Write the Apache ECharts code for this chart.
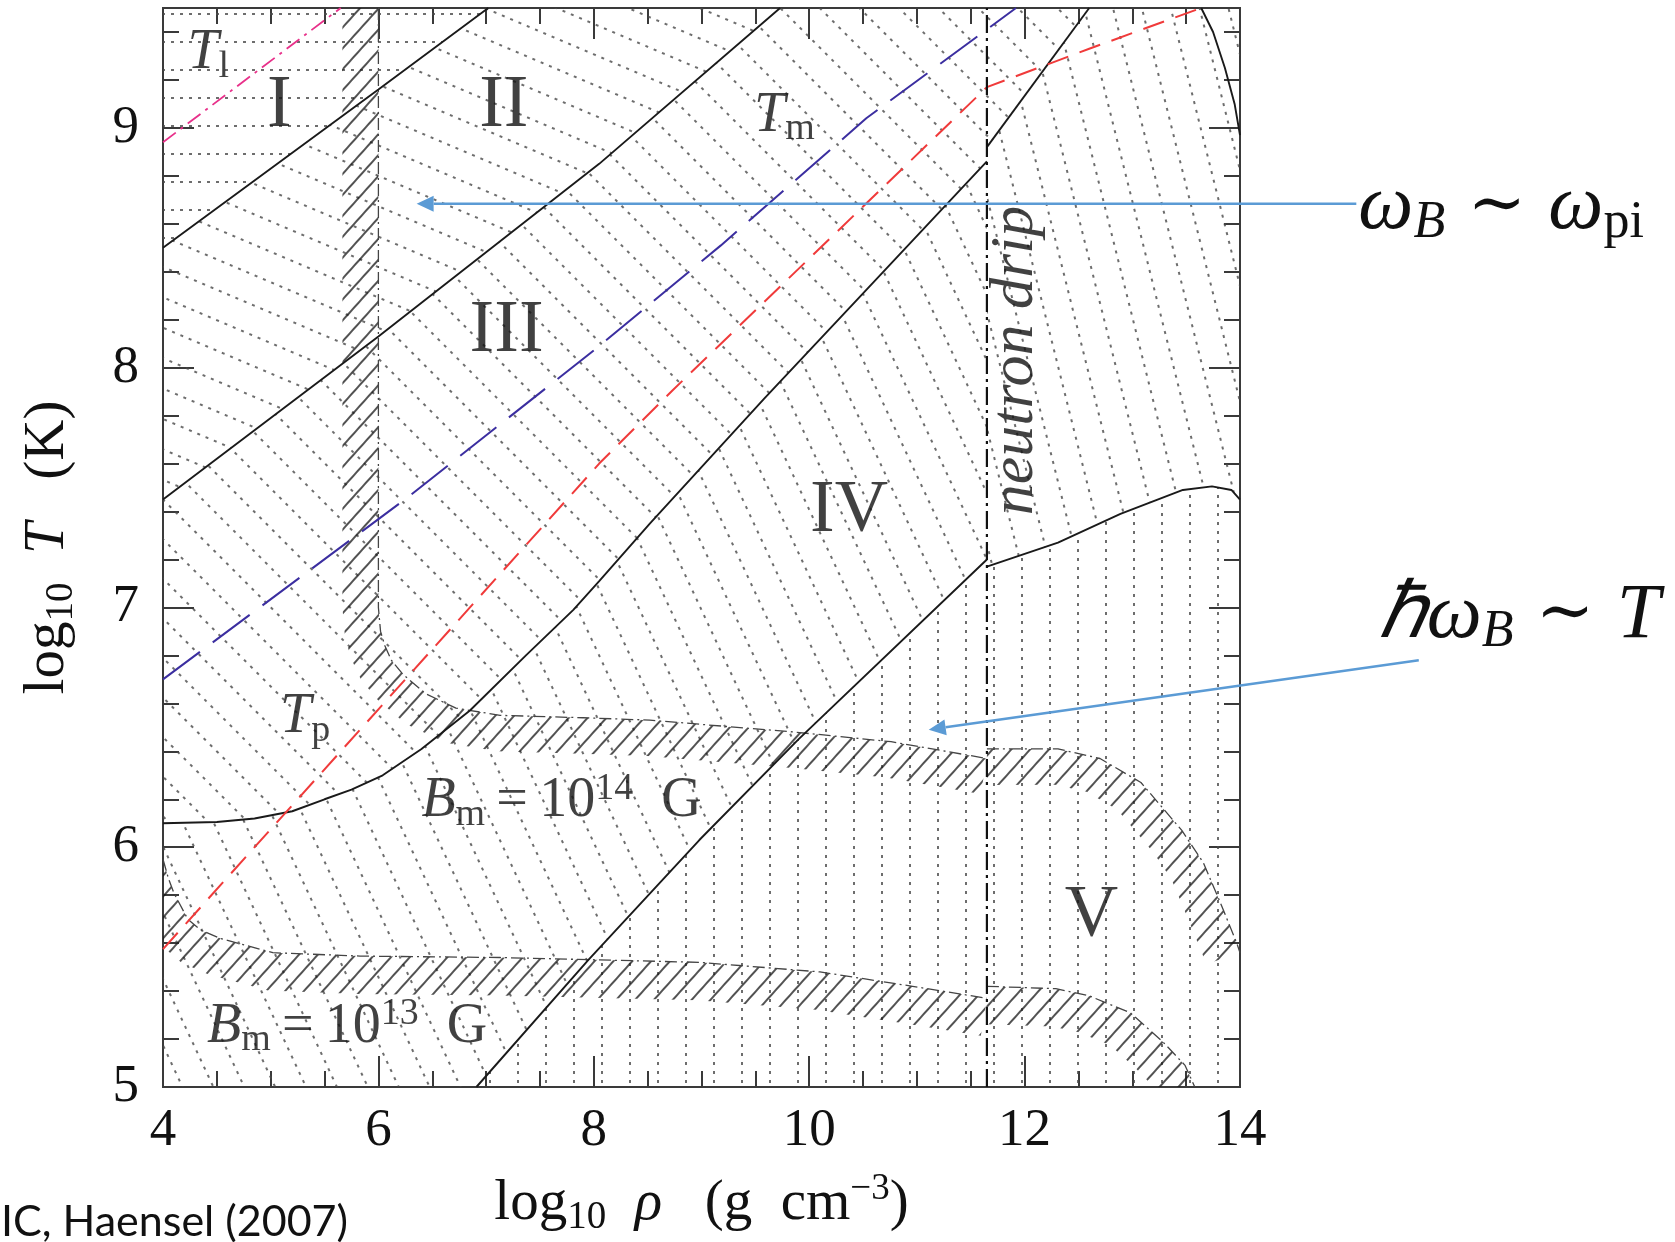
<!DOCTYPE html>
<html><head><meta charset="utf-8">
<script src="https://cdn.jsdelivr.net/npm/echarts@6/dist/echarts.min.js"></script>
<style>html,body{margin:0;padding:0;background:#fff}#c{width:1675px;height:1242px}</style>
</head><body><div id="c"></div>
<script>
// ---------------- data: x = log10 rho (g cm^-3), y = log10 T (K) ----------------
const xTickValues = [4, 6, 8, 10, 12, 14];
const yTickValues = [5, 6, 7, 8, 9];
const lineTl = [[4, 8.94], [5.65, 9.5]];
const lineA = [[4, 8.50], [6, 9.16], [7.02, 9.5]];
const lineB = [[4, 7.45], [6, 8.13], [8.05, 8.85], [9.73, 9.5]];
const lineC1 = [[4, 6.10], [4.5, 6.105], [4.85, 6.12], [5.2, 6.15], [5.5, 6.20], [5.75, 6.24], [6.04, 6.30], [6.4, 6.41], [6.85, 6.57], [7.37, 6.80], [7.81, 6.99], [8.05, 7.11], [8.52, 7.35], [9.58, 7.87], [10.5, 8.31], [11.65, 8.86]];
const lineC2 = [[11.65, 8.92], [12.60, 9.5]];
const lineD1 = [[6.91, 5.0], [7.95, 5.53], [8.98, 6.03], [9.9, 6.45], [11.65, 7.20]];
const lineD2 = [[11.65, 7.17], [12.31, 7.27], [12.89, 7.39], [13.47, 7.49], [13.74, 7.505], [13.92, 7.49], [14.0, 7.45]];
const lineE = [[13.64, 9.5], [13.75, 9.40], [13.86, 9.25], [13.95, 9.10], [14.0, 8.97]];
const lineBlue = [[4, 6.70], [6.26, 7.455], [8.05, 8.09], [9.18, 8.51], [10.53, 9.04], [11.92, 9.5]];
const lineRed = [[4, 5.575], [5.41, 6.28], [8.05, 7.60], [8.73, 7.905], [11.65, 9.17], [12.6, 9.33], [13.64, 9.5]];
const neutronDrip = [[11.65, 5], [11.65, 9.5]];
// B_m = 1e14 G boundary (left of drip / right of drip)
const bound14a = [[6, 9.5], [6, 7.0], [6.02, 6.90], [6.06, 6.84], [6.12, 6.78], [6.23, 6.72], [6.44, 6.64], [6.72, 6.58], [7.13, 6.55], [7.9, 6.54], [8.52, 6.53], [9.87, 6.48], [10.76, 6.44], [11.65, 6.37]];
const bound14b = [[11.65, 6.41], [12.31, 6.41], [12.70, 6.37], [13.08, 6.27], [13.46, 6.07], [13.66, 5.935], [13.83, 5.755], [13.97, 5.60], [14.0, 5.56]];
// B_m = 1e13 G boundary
const bound13a = [[4, 5.95], [4.05, 5.87], [4.10, 5.81], [4.23, 5.70], [4.35, 5.655], [4.53, 5.62], [5.02, 5.56], [5.83, 5.546], [7.13, 5.54], [8.98, 5.52], [10.10, 5.48], [10.96, 5.42], [11.65, 5.37]];
const bound13b = [[11.65, 5.42], [12.29, 5.41], [12.60, 5.38], [12.98, 5.31], [13.28, 5.19], [13.49, 5.09], [13.58, 5.0]];

// annotation anchors (data units)
const regionLabels = [
  {t: '{r|I}', at: [5.08, 9.09]},
  {t: '{r|II}', at: [7.165, 9.09]},
  {t: '{r|III}', at: [7.19, 8.15]},
  {t: '{r|IV}', at: [10.37, 7.40]},
  {t: '{r|V}', at: [12.62, 5.71]},
  {t: '{it|T}{sb|l}', at: [4.42, 9.31]},
  {t: '{it|T}{sb|m}', at: [9.77, 9.05]},
  {t: '{it|T}{sb|p}', at: [5.32, 6.54]},
  {t: '{it|B}{sb|m}{n|\u2009=\u200910}{sp|14}{n|  G}', at: [7.70, 6.19]},
  {t: '{it|B}{sb|m}{n|\u2009=\u200910}{sp|13}{n|  G}', at: [5.71, 5.25]},
  {t: '{dr|neutron drip}', at: [11.92, 8.03], rot: 90}
];
const arrows = [
  {from: [15.08, 8.684], to: [6.355, 8.684]},
  {from: [15.66, 6.78], to: [11.11, 6.49]}
];

// ---------------- helpers ----------------
const SERIF = 'Liberation Serif';
const INK = '#111';
function makeTile(period, spacing, dash, lw, color) {
  const c = document.createElement('canvas');
  c.width = period; c.height = spacing;
  const g = c.getContext('2d');
  g.fillStyle = color;
  g.fillRect(0, (spacing - lw) / 2, dash, lw);
  return c;
}
const dotTile = makeTile(9, 28, 3, 1.6, '#4a4a4a');
const hatchTile = makeTile(14, 14, 14, 1.5, '#1a1a1a');
const deg = Math.PI / 180;
const rev = a => a.slice().reverse();

const regions = [
  {poly: [...lineA, [4, 9.5]], rot: 0},
  {poly: [...lineB, ...rev(lineA)], rot: 23 * deg},
  {poly: [...lineC1, ...lineC2, ...rev(lineB)], rot: 45 * deg},
  {poly: [[4, 5], ...lineD1, ...rev(lineC1)], rot: 65 * deg},
  {poly: [...lineD2, [14, 9.5], ...rev(lineC2)], rot: 76 * deg},
  {poly: [...lineD1, ...lineD2, [14, 5]], rot: 90 * deg}
];

function regionSeries(r) {
  return {
    type: 'custom', coordinateSystem: 'cartesian2d', clip: true, silent: true, z: 1,
    data: [[4, 5]],
    renderItem: (params, api) => ({
      type: 'polygon',
      shape: {points: r.poly.map(p => api.coord(p))},
      style: {fill: {image: dotTile, repeat: 'repeat', rotation: r.rot}, stroke: null}
    })
  };
}
function bandSeries(curve, w) {
  return {
    type: 'custom', coordinateSystem: 'cartesian2d', clip: true, silent: true, z: 2,
    data: [[4, 5]],
    renderItem: (params, api) => {
      const pts = curve.map(p => api.coord(p));
      const off = [];
      for (let i = 0; i < pts.length; i++) {
        const a = pts[Math.max(0, i - 1)], b = pts[Math.min(pts.length - 1, i + 1)];
        let dx = b[0] - a[0], dy = b[1] - a[1];
        const L = Math.hypot(dx, dy) || 1; dx /= L; dy /= L;
        off.push([pts[i][0] - dy * w, pts[i][1] + dx * w]);
      }
      return {
        type: 'polygon',
        shape: {points: pts.concat(off.reverse())},
        style: {fill: {image: hatchTile, repeat: 'repeat', rotation: -48 * deg}, stroke: null}
      };
    }
  };
}
function lineSeries(data, color, width, type, z) {
  return {type: 'line', data, symbol: 'none', silent: true, z: z || 5, clip: true,
    lineStyle: {color, width, type}};
}

const axisCol = '#3a3a3a';
function xAx(pos, show) {
  return {
    type: 'value', min: 4, max: 14, interval: 2, position: pos,
    axisLine: {lineStyle: {color: axisCol, width: 2}},
    axisTick: {inside: true, length: 31, lineStyle: {color: axisCol, width: 2}},
    minorTick: {show: true, splitNumber: 4, length: 16, lineStyle: {color: axisCol, width: 2}},
    splitLine: {show: false}, minorSplitLine: {show: false},
    axisLabel: {show: show, fontSize: 53, fontFamily: SERIF, color: INK, margin: 18,
      formatter: v => xTickValues.includes(v) ? String(v) : ''}
  };
}
function yAx(pos, interval, len, show) {
  return {
    type: 'value', min: 5, max: 9.5, interval, position: pos,
    axisLine: {show: true, lineStyle: {color: axisCol, width: 2}},
    axisTick: {inside: true, length: len, lineStyle: {color: axisCol, width: 2}},
    splitLine: {show: false},
    axisLabel: {show: show, fontSize: 53, fontFamily: SERIF, color: INK, margin: 24,
      formatter: v => yTickValues.includes(v) ? String(v) : ''}
  };
}
const nameRich = {
  n: {fontSize: 57, fontFamily: SERIF, color: INK, lineHeight: 66},
  it: {fontSize: 57, fontFamily: SERIF, fontStyle: 'italic', color: INK, lineHeight: 66},
  sb: {fontSize: 39, fontFamily: SERIF, color: INK, lineHeight: 24, verticalAlign: 'bottom'},
  sp: {fontSize: 37, fontFamily: SERIF, color: INK, lineHeight: 44, verticalAlign: 'top'}
};
const xA = xAx('bottom', true);
xA.name = '{n|log}{sb|10}{n|  }{it|ρ}{n|   (g  cm}{sp|−3}{n|)}';
xA.nameLocation = 'middle'; xA.nameGap = 84;
xA.nameTextStyle = {rich: nameRich};
const yA = yAx('left', 1, 31, true);
yA.name = '{n|log}{sb|10}{n|  }{it|T}{n|   (K)}';
yA.nameLocation = 'middle'; yA.nameRotate = 90; yA.nameGap = 82;
yA.nameTextStyle = {rich: nameRich};

const labelRich = {
  r: {fontSize: 74, fontFamily: SERIF, color: INK, lineHeight: 80},
  n: {fontSize: 56, fontFamily: SERIF, color: INK, lineHeight: 64},
  it: {fontSize: 56, fontFamily: SERIF, fontStyle: 'italic', color: INK, lineHeight: 64},
  dr: {fontSize: 62, fontFamily: SERIF, fontStyle: 'italic', color: INK, lineHeight: 64},
  sb: {fontSize: 38, fontFamily: SERIF, color: INK, lineHeight: 24, verticalAlign: 'bottom'},
  sp: {fontSize: 38, fontFamily: SERIF, color: INK, lineHeight: 40, verticalAlign: 'top'}
};

const option = {
  animation: false,
  backgroundColor: '#fff',
  grid: {left: 163, right: 435, top: 8, bottom: 154, containLabel: false},
  xAxis: [xA, xAx('top', false)],
  yAxis: [yA, yAx('left', 0.2, 16, false), yAx('right', 1, 31, false), yAx('right', 0.2, 16, false)],
  series: [
    ...regions.map(regionSeries),
    bandSeries(bound14a, 36), bandSeries(bound14b, 36),
    bandSeries(bound13a, 38), bandSeries(bound13b, 38),
    lineSeries(bound14a, '#444', 1.3, [12, 4, 2, 4], 4),
    lineSeries(bound14b, '#444', 1.3, [12, 4, 2, 4], 4),
    lineSeries(bound13a, '#444', 1.3, [12, 4, 2, 4], 4),
    lineSeries(bound13b, '#444', 1.3, [12, 4, 2, 4], 4),
    lineSeries(lineA, '#1a1a1a', 1.9, 'solid'),
    lineSeries(lineB, '#1a1a1a', 1.9, 'solid'),
    lineSeries(lineC1, '#1a1a1a', 1.9, 'solid'),
    lineSeries(lineC2, '#1a1a1a', 1.9, 'solid'),
    lineSeries(lineD1, '#1a1a1a', 1.9, 'solid'),
    lineSeries(lineD2, '#1a1a1a', 1.9, 'solid'),
    lineSeries(lineE, '#1a1a1a', 1.9, 'solid'),
    lineSeries(lineTl, '#e8308a', 1.8, [16, 6, 3, 6], 6),
    lineSeries(lineBlue, '#3b2ea0', 2, [46, 16], 6),
    lineSeries(lineRed, '#f03a3a', 2, [22, 12], 6),
    lineSeries(neutronDrip, '#111', 2.2, [18, 5, 3, 5], 6),
    {
      type: 'scatter', symbolSize: 0, silent: true, z: 10,
      data: regionLabels.map(l => ({
        value: l.at,
        label: {show: true, position: 'inside', formatter: l.t, rotate: l.rot || 0, rich: labelRich}
      }))
    }
  ]
};

const chart = echarts.init(document.getElementById('c'), null, {renderer: 'canvas'});
chart.setOption(option);

// slide annotations: arrows + math text, positioned through the chart's scales
const P = v => chart.convertToPixel({xAxisIndex: 0, yAxisIndex: 0}, v);
const blue = '#5b9bd5';
const graphics = [];
arrows.forEach(a => {
  const f = P(a.from), t = P(a.to);
  let dx = t[0] - f[0], dy = t[1] - f[1];
  const L = Math.hypot(dx, dy); dx /= L; dy /= L;
  const hl = 17, hw = 8;
  const bx = t[0] - dx * hl, by = t[1] - dy * hl;
  graphics.push({type: 'line', z: 100, shape: {x1: f[0], y1: f[1], x2: bx, y2: by}, style: {stroke: blue, lineWidth: 2.5}});
  graphics.push({type: 'polygon', z: 100, shape: {points: [[t[0], t[1]], [bx - dy * hw, by + dx * hw], [bx + dy * hw, by - dx * hw]]}, style: {fill: blue}});
});
const mathRich = {
  w: {fontSize: 78, fontFamily: SERIF, fontStyle: 'italic', fill: '#111', lineHeight: 84},
  n: {fontSize: 70, fontFamily: 'DejaVu Serif', fill: '#111', lineHeight: 84},
  sbi: {fontSize: 52, fontFamily: SERIF, fontStyle: 'italic', fill: '#111', lineHeight: 36, verticalAlign: 'bottom'},
  sb: {fontSize: 52, fontFamily: SERIF, fill: '#111', lineHeight: 36, verticalAlign: 'bottom'}
};
const a1 = P(arrows[0].from), a2 = P(arrows[1].from);
graphics.push({type: 'text', z: 100, x: a1[0] + 2, y: a1[1] + 4,
  style: {text: '{w|ω}{sbi|B}{n| ∼ }{w|ω}{sb|pi}', rich: mathRich, align: 'left', verticalAlign: 'middle'}});
graphics.push({type: 'text', z: 100, x: a2[0] - 40, y: a2[1] - 44,
  style: {text: '{w|ℏω}{sbi|B}{n| ∼ }{w|T}', rich: mathRich, align: 'left', verticalAlign: 'middle'}});
graphics.push({type: 'text', z: 100, x: 1, y: 1222,
  style: {text: 'IC, Haensel (2007)', font: '43px Lato', fill: '#111', verticalAlign: 'middle'}});
chart.setOption({graphic: graphics});
</script></body></html>
